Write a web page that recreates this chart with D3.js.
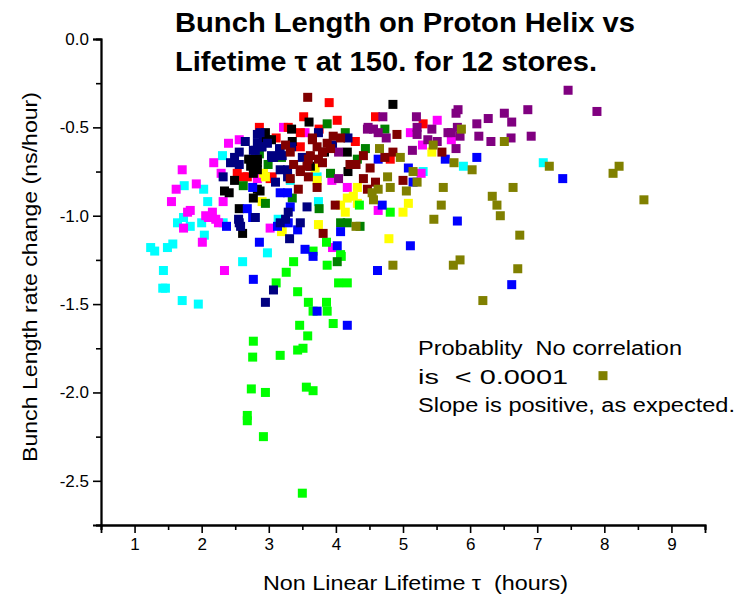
<!DOCTYPE html>
<html>
<head>
<meta charset="utf-8">
<script src="https://cdn.jsdelivr.net/npm/d3@7"></script>
<style>
  body { margin: 0; background: #fff; }
  svg { display: block; font-family: "Liberation Sans", Arial, sans-serif; }
</style>
</head>
<body>
<svg id="chart"></svg>
<script>
// one array per store, [lifetime, rate change]
const storeCyan = [[1.74,-0.83],[2.03,-0.85],[2.09,-0.92],[1.73,-1.01],[1.64,-1.04],[1.83,-1.06],[2.04,-1.11],
  [1.24,-1.18],[1.30,-1.20],[1.49,-1.18],[1.57,-1.16],[1.43,-1.31],[2.61,-1.26],[1.42,-1.41],[1.46,-1.41],
  [1.71,-1.48],[1.95,-1.50],[2.00,-1.04],[2.32,-1.04],[2.31,-0.66],[2.98,-1.21],[3.72,-0.78],[3.74,-0.92],
  [3.14,-1.02],[5.30,-0.75],[5.90,-0.72],[7.09,-0.70],[3.32,-0.80]];
const storeMagenta = [[1.71,-0.74],[1.62,-0.85],[1.92,-0.82],[1.55,-0.92],[1.83,-0.97],[1.79,-0.98],[2.06,-1.00],
  [2.16,-0.98],[2.21,-1.02],[2.25,-1.04],[2.10,-1.01],[1.73,-1.07],[2.01,-1.15],[2.34,-1.31],[2.32,-0.92],
  [2.40,-0.59],[2.56,-0.57],[2.18,-0.70],[2.29,-0.76],[3.02,-1.07],[3.22,-0.50],[3.54,-0.53],[2.83,-0.79],
  [4.17,-0.84],[3.94,-0.80],[4.63,-0.97],[3.95,-1.18],[5.51,-0.46],[5.11,-0.53],[5.29,-0.60],[5.72,-0.57],[5.27,-0.76]];
const storeRed = [[2.86,-0.50],[3.11,-0.56],[2.53,-0.76],[3.29,-0.50],[3.47,-0.53],[2.62,-0.78],[3.02,-0.79],
  [3.90,-0.36],[3.52,-0.44],[4.02,-0.46],[4.59,-0.44],[4.29,-0.58],[3.47,-0.61],[3.75,-0.51],[5.30,-0.48],
  [4.81,-0.68],[3.05,-0.78],[2.68,-0.78]];
const storeYellow = [[3.72,-0.80],[4.17,-0.90],[4.26,-0.89],[4.32,-0.93],[4.14,-0.98],[3.74,-1.05],[3.20,-1.08],
  [5.08,-0.93],[5.00,-0.98],[4.79,-1.13],[3.69,-0.73],[4.32,-0.84],[2.90,-0.92],[3.19,-1.09],[2.95,-0.78],
  [5.43,-0.64],[4.07,-0.94],[2.92,-0.76]];
const storeLime = [[4.35,-0.94],[4.81,-0.98],[3.86,-1.15],[4.07,-1.22],[3.66,-1.20],[3.37,-1.26],[3.26,-1.32],
  [3.87,-1.28],[4.08,-1.23],[3.11,-1.38],[3.43,-1.43],[4.04,-1.38],[4.17,-1.38],[3.59,-1.49],[3.86,-1.49],
  [3.66,-1.54],[3.87,-1.54],[3.46,-1.62],[3.96,-1.61],[3.58,-1.68],[2.77,-1.71],[3.51,-1.75],[3.43,-1.76],
  [2.76,-1.80],[3.17,-1.79],[2.74,-1.98],[2.95,-2.00],[3.56,-1.97],[3.66,-1.99],[2.68,-2.13],[2.68,-2.16],
  [2.92,-2.25],[3.50,-2.57]];
const storeGreen = [[2.98,-0.57],[2.86,-0.65],[2.99,-0.71],[2.62,-0.83],[2.95,-0.93],[3.35,-0.90],[3.87,-0.48],
  [4.14,-0.53],[4.44,-0.62],[4.32,-0.68],[3.19,-0.67],[3.92,-0.76],[3.75,-0.96],[4.07,-1.04],[4.17,-1.04],
  [4.36,-1.06],[4.73,-0.51],[4.02,-1.26]];
const storeBlack = [[3.34,-0.51],[3.35,-0.58],[2.95,-0.53],[3.04,-0.57],[2.83,-0.70],[2.73,-0.72],[2.83,-0.74],
  [2.70,-0.68],[2.49,-0.80],[2.34,-0.86],[2.41,-0.87],[2.87,-0.86],[2.77,-0.90],[2.56,-0.96],[2.61,-1.10],
  [3.60,-0.47],[3.83,-0.64],[4.17,-0.64],[3.62,-0.72],[4.18,-0.75],[4.85,-0.37],[2.83,-0.85],[2.77,-0.76],
  [2.92,-0.57],[2.83,-0.68]];
const storeBlue = [[2.76,-0.84],[3.17,-0.87],[3.32,-0.95],[2.68,-0.96],[2.76,-1.01],[2.37,-1.06],[3.29,-1.04],
  [3.43,-1.08],[2.86,-1.15],[3.13,-1.06],[4.07,-1.09],[3.54,-1.19],[3.66,-1.23],[4.63,-0.68],[4.69,-0.94],
  [5.11,-1.17],[5.63,-0.68],[5.08,-0.73],[5.15,-0.81],[7.38,-0.79],[5.81,-1.03],[2.77,-1.36],[3.72,-1.54],
  [4.17,-1.62],[4.62,-1.31],[6.62,-1.39],[4.02,-1.17],[6.10,-0.67],[3.28,-0.87]];
const storeNavy = [[2.83,-0.54],[2.65,-0.58],[2.89,-0.61],[2.80,-0.63],[2.56,-0.64],[2.49,-0.67],[2.43,-0.70],
  [2.56,-0.71],[3.04,-0.66],[3.16,-0.62],[2.32,-0.78],[3.17,-0.63],[3.34,-0.61],[3.10,-0.81],[3.17,-1.04],
  [3.29,-0.98],[2.56,-1.04],[2.55,-1.02],[2.80,-1.01],[3.31,-1.13],[3.74,-0.53],[3.50,-0.67],[4.18,-0.56],
  [3.95,-0.60],[2.87,-0.53],[2.77,-0.63],[3.05,-0.67],[3.17,-0.74],[3.57,-0.95],[3.47,-1.04],[3.07,-1.42],
  [2.95,-1.49],[2.58,-1.06],[2.90,-0.61],[2.98,-0.59],[3.07,-0.67],[3.20,-0.66],[3.28,-0.74],[3.25,-1.02],
  [2.83,-0.59],[3.28,-0.78]];
const storePurple = [[7.46,-0.29],[7.89,-0.41],[6.86,-0.40],[6.51,-0.42],[6.27,-0.45],[6.62,-0.47],[6.10,-0.48],
  [5.82,-0.40],[5.79,-0.42],[5.20,-0.44],[5.21,-0.50],[5.21,-0.54],[5.43,-0.51],[5.37,-0.57],[5.51,-0.58],
  [5.72,-0.53],[5.81,-0.50],[5.85,-0.55],[6.13,-0.55],[6.31,-0.58],[6.61,-0.56],[6.91,-0.55],[5.79,-0.62],
  [5.14,-0.63],[4.70,-0.44],[4.75,-0.56],[4.47,-0.51],[4.56,-0.51],[4.63,-0.53],[4.04,-0.64],[4.04,-0.79],
  [4.48,-0.50],[5.67,-0.53]];
const storeMaroon = [[3.58,-0.33],[3.96,-0.55],[4.07,-0.56],[3.87,-0.59],[3.65,-0.56],[3.32,-0.64],[3.62,-0.66],
  [3.74,-0.68],[3.37,-0.71],[3.57,-0.72],[3.80,-0.70],[4.21,-0.71],[4.30,-0.71],[4.41,-0.66],[4.51,-0.73],
  [3.92,-0.62],[3.59,-0.78],[3.44,-0.85],[3.72,-0.84],[4.41,-0.79],[4.59,-0.81],[4.91,-0.54],[4.73,-0.67],
  [4.85,-0.64],[5.00,-0.80],[5.58,-0.64],[3.99,-0.94],[3.81,-1.10],[4.47,-0.85],[3.32,-0.79],[3.25,-0.60],
  [3.47,-0.75],[3.47,-0.74],[3.65,-0.57],[3.72,-0.61],[3.80,-0.64],[3.59,-0.68]];
const storeOlive = [[5.87,-0.51],[6.51,-0.58],[5.45,-0.60],[4.96,-0.67],[5.76,-0.70],[6.03,-0.74],[7.18,-0.72],
  [5.15,-0.75],[5.21,-0.81],[5.05,-0.86],[5.60,-0.84],[6.64,-0.84],[6.33,-0.89],[6.40,-0.94],[6.45,-1.00],
  [5.57,-0.94],[5.46,-1.02],[6.74,-1.11],[5.85,-1.25],[5.75,-1.28],[6.71,-1.30],[8.22,-0.72],[8.13,-0.76],
  [8.59,-0.91],[6.19,-1.48],[4.85,-1.28],[4.30,-1.06],[4.65,-0.62],[4.77,-0.78],[4.54,-0.87],[4.63,-0.85],
  [4.81,-0.84],[4.56,-0.91]];

const stores = [storeCyan, storeMagenta, storeRed, storeYellow, storeLime, storeGreen,
  storeBlack, storeBlue, storeNavy, storePurple, storeMaroon, storeOlive];
const colors = ["#00ffff", "#ff00ff", "#ff0000", "#ffff00", "#00ff00", "#008000",
  "#000000", "#0000ff", "#000080", "#800080", "#800000", "#808000"];

const xTicks = [1, 2, 3, 4, 5, 6, 7, 8, 9];
const xMinor = [0.5, 1.5, 2.5, 3.5, 4.5, 5.5, 6.5, 7.5, 8.5, 9.5];
const yTicks = [0, -0.5, -1.0, -1.5, -2.0, -2.5];
const yMinor = [-0.25, -0.75, -1.25, -1.75, -2.25, -2.75];

const legendLines = ["Probablity  No correlation", "is  < 0.0001", "Slope is positive, as expected."];
const legendWidths = [264, 150, 317];
const legendMark = [7.98, -1.905];

const wSvg = 749;
const hSvg = 597;
const margin = { top: 39, right: 44, bottom: 72, left: 101 };

const svg = d3.select("#chart")
  .attr("width", wSvg)
  .attr("height", hSvg);

const x = d3.scaleLinear()
  .domain([0.5, 9.5])
  .range([margin.left, wSvg - margin.right]);

const y = d3.scaleLinear()
  .domain([-2.75, 0])
  .range([hSvg - margin.bottom, margin.top]);

// points, store by store
stores.forEach((pts, i) => {
  svg.append("g")
    .selectAll("rect")
    .data(pts)
    .enter()
    .append("rect")
    .attr("x", d => x(d[0]) - 4.5)
    .attr("y", d => y(d[1]) - 4.5)
    .attr("width", 9)
    .attr("height", 9)
    .attr("fill", colors[i]);
});

// axes
svg.append("g")
  .attr("transform", `translate(0, ${hSvg - margin.bottom})`)
  .call(d3.axisBottom(x).tickValues(xTicks).tickSize(8).tickPadding(5)
    .tickFormat(d => d));
svg.append("g")
  .attr("transform", `translate(0, ${hSvg - margin.bottom})`)
  .call(d3.axisBottom(x).tickValues(xMinor).tickSize(5).tickFormat(""));

svg.append("g")
  .attr("transform", `translate(${margin.left}, 0)`)
  .call(d3.axisLeft(y).tickValues(yTicks).tickSize(8).tickPadding(4)
    .tickFormat(d => d.toFixed(1)));
svg.append("g")
  .attr("transform", `translate(${margin.left}, 0)`)
  .call(d3.axisLeft(y).tickValues(yMinor).tickSize(5).tickFormat(""));

svg.selectAll(".domain").attr("stroke", "#000").attr("stroke-width", 1.8);
svg.selectAll(".tick line").attr("stroke", "#000").attr("stroke-width", 1.6);
svg.selectAll(".tick text")
  .attr("fill", "#000")
  .style("font-size", "17px")
  .style("font-family", "'Liberation Sans', Arial, sans-serif");

// titles
svg.append("text")
  .attr("x", 175).attr("y", 32)
  .attr("textLength", 460).attr("lengthAdjust", "spacingAndGlyphs")
  .style("font-size", "27px").style("font-weight", "bold")
  .text("Bunch Length on Proton Helix vs");
svg.append("text")
  .attr("x", 175).attr("y", 71)
  .attr("textLength", 422).attr("lengthAdjust", "spacingAndGlyphs")
  .style("font-size", "27px").style("font-weight", "bold")
  .text("Lifetime \u03c4 at 150. for 12 stores.");

svg.append("text")
  .attr("x", 263).attr("y", 590)
  .attr("textLength", 305).attr("lengthAdjust", "spacingAndGlyphs")
  .style("font-size", "20px").style("white-space", "pre")
  .text("Non Linear Lifetime \u03c4  (hours)");

svg.append("text")
  .attr("transform", "translate(37, 462) rotate(-90)")
  .attr("textLength", 370).attr("lengthAdjust", "spacingAndGlyphs")
  .style("font-size", "20px")
  .text("Bunch Length rate change (ns/hour)");

// note
svg.append("g")
  .selectAll("text")
  .data(legendLines)
  .enter()
  .append("text")
  .attr("x", 418)
  .attr("y", (d, i) => 355 + i * 28.5)
  .attr("textLength", (d, i) => legendWidths[i])
  .attr("lengthAdjust", "spacingAndGlyphs")
  .style("font-size", "20px")
  .style("white-space", "pre")
  .text(d => d);

svg.append("rect")
  .attr("x", x(legendMark[0]) - 4.5)
  .attr("y", y(legendMark[1]) - 4.5)
  .attr("width", 9)
  .attr("height", 9)
  .attr("fill", colors[11]);
</script>
</body>
</html>
